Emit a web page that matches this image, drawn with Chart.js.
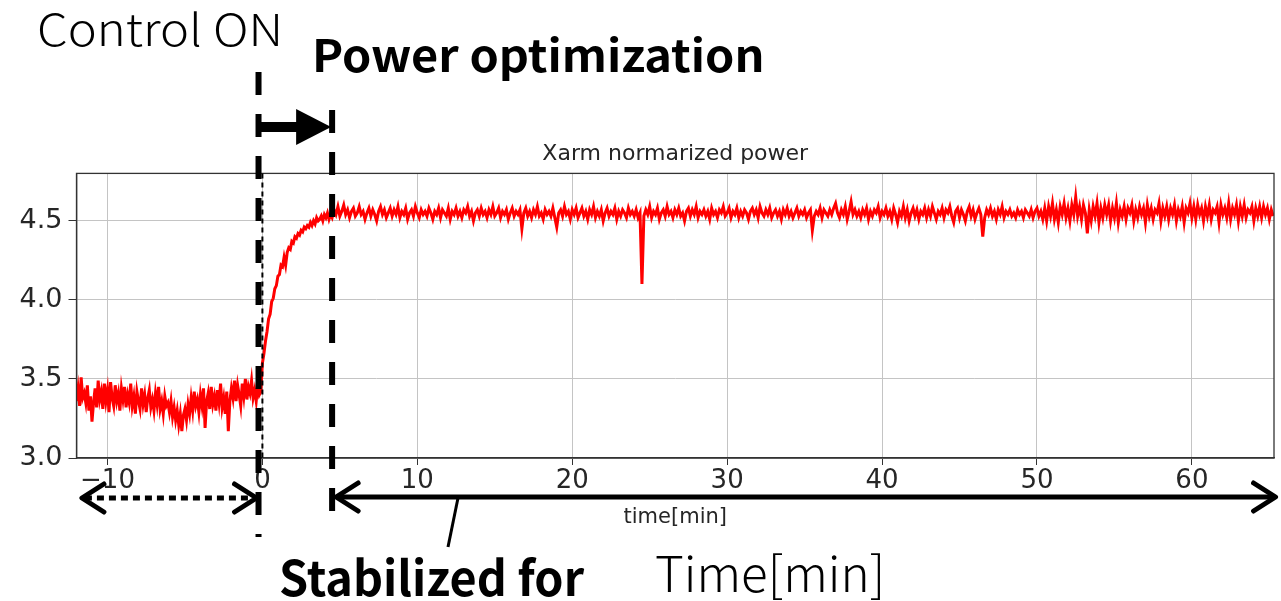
<!DOCTYPE html>
<html>
<head>
<meta charset="utf-8">
<title>Xarm normarized power</title>
<script src="https://cdn.jsdelivr.net/npm/chart.js@4.4.0/dist/chart.umd.min.js"></script>
<style>
  html, body { margin: 0; padding: 0; background: #fff; }
  #power { display: block; }
</style>
</head>
<body>
<canvas id="power" width="1281" height="601"></canvas>
<script>
"use strict";

// Xarm normalized power, sampled before and after control is switched on
const preStart = -12, preStep = 0.1;      // before control ON
const rampStart = 0, rampStep = 0.1;      // power optimization
const runStart = 4.5, runStep = 0.125;    // stabilized

const preValues = [
    3.36, 3.44, 3.33, 3.51, 3.38, 3.41, 3.35, 3.46, 3.30, 3.39,
    3.23, 3.35, 3.44, 3.32, 3.49, 3.37, 3.42, 3.31, 3.47, 3.36,
    3.43, 3.29, 3.48, 3.38, 3.33, 3.46, 3.36, 3.41, 3.30, 3.44,
    3.37, 3.45, 3.32, 3.40, 3.35, 3.47, 3.33, 3.39, 3.28, 3.42,
    3.36, 3.31, 3.44, 3.34, 3.40, 3.29, 3.38, 3.43, 3.32, 3.37,
    3.30, 3.41, 3.34, 3.45, 3.31, 3.36, 3.28, 3.39, 3.33, 3.35,
    3.29, 3.36, 3.26, 3.32, 3.24, 3.30, 3.21, 3.28, 3.17, 3.27,
    3.31, 3.24, 3.34, 3.28, 3.38, 3.30, 3.42, 3.33, 3.37, 3.29,
    3.40, 3.33, 3.44, 3.19, 3.36, 3.41, 3.31, 3.45, 3.34, 3.39,
    3.30, 3.43, 3.35, 3.47, 3.32, 3.38, 3.28, 3.42, 3.17, 3.36,
    3.44, 3.38, 3.49, 3.36, 3.46, 3.40, 3.33, 3.47, 3.39, 3.50,
    3.37, 3.45, 3.41, 3.49, 3.38, 3.43, 3.36, 3.46, 3.40, 3.42
];

const rampValues = [
    3.60, 3.66, 3.74, 3.80, 3.88, 3.91, 3.99, 4.01, 4.07, 4.09,
    4.15, 4.16, 4.22, 4.21, 4.27, 4.22, 4.30, 4.33, 4.32, 4.37,
    4.36, 4.40, 4.39, 4.42, 4.41, 4.44, 4.43, 4.46, 4.45, 4.47,
    4.46, 4.49, 4.47, 4.50, 4.48, 4.52, 4.50, 4.51, 4.53, 4.50,
    4.54, 4.52, 4.55, 4.51, 4.54
];

// one row = 2 minutes
const runValues = [
    4.52, 4.57, 4.54, 4.59, 4.53, 4.56, 4.60, 4.54, 4.57, 4.52, 4.56, 4.58, 4.53, 4.55, 4.59, 4.54,
    4.56, 4.51, 4.55, 4.58, 4.53, 4.57, 4.54, 4.50, 4.56, 4.59, 4.54, 4.57, 4.52, 4.55, 4.58, 4.53,
    4.57, 4.54, 4.59, 4.52, 4.56, 4.54, 4.58, 4.51, 4.55, 4.57, 4.53, 4.59, 4.55, 4.52, 4.57, 4.54,
    4.56, 4.53, 4.58, 4.55, 4.51, 4.56, 4.54, 4.58, 4.52, 4.57, 4.55, 4.53, 4.58, 4.51, 4.56, 4.54,
    4.58, 4.53, 4.56, 4.52, 4.57, 4.55, 4.59, 4.53, 4.56, 4.50, 4.55, 4.57, 4.53, 4.58, 4.54, 4.56,
    4.52, 4.57, 4.54, 4.59, 4.53, 4.55, 4.58, 4.52, 4.56, 4.54, 4.57, 4.51, 4.55, 4.58, 4.53, 4.56,
    4.54, 4.57, 4.45, 4.55, 4.58, 4.53, 4.56, 4.52, 4.57, 4.54, 4.59, 4.53, 4.55, 4.51, 4.57, 4.54,
    4.56, 4.53, 4.58, 4.52, 4.46, 4.55, 4.57, 4.53, 4.59, 4.54, 4.56, 4.51, 4.57, 4.54, 4.58, 4.52,
    4.55, 4.58, 4.53, 4.56, 4.51, 4.57, 4.54, 4.59, 4.52, 4.56, 4.53, 4.57, 4.50, 4.55, 4.58, 4.53,
    4.56, 4.54, 4.58, 4.51, 4.56, 4.53, 4.57, 4.55, 4.52, 4.58, 4.54, 4.56, 4.53, 4.57, 4.52, 4.55,
    4.10, 4.53, 4.57, 4.54, 4.59, 4.52, 4.56, 4.54, 4.58, 4.51, 4.55, 4.57, 4.53, 4.59, 4.54, 4.56,
    4.52, 4.57, 4.54, 4.58, 4.53, 4.55, 4.50, 4.56, 4.58, 4.53, 4.57, 4.54, 4.59, 4.52, 4.56, 4.54,
    4.57, 4.53, 4.56, 4.51, 4.58, 4.54, 4.56, 4.52, 4.57, 4.55, 4.59, 4.53, 4.55, 4.58, 4.52, 4.56,
    4.54, 4.58, 4.52, 4.56, 4.53, 4.57, 4.55, 4.51, 4.56, 4.58, 4.54, 4.57, 4.52, 4.59, 4.55, 4.53,
    4.57, 4.54, 4.58, 4.52, 4.55, 4.57, 4.53, 4.56, 4.51, 4.57, 4.54, 4.58, 4.53, 4.56, 4.52, 4.55,
    4.58, 4.53, 4.56, 4.54, 4.57, 4.52, 4.55, 4.57, 4.44, 4.53, 4.56, 4.54, 4.58, 4.52, 4.57, 4.55,
    4.53, 4.57, 4.54, 4.58, 4.61, 4.55, 4.52, 4.57, 4.54, 4.59, 4.51, 4.56, 4.62, 4.54, 4.57, 4.53,
    4.56, 4.52, 4.57, 4.54, 4.58, 4.51, 4.56, 4.53, 4.57, 4.55, 4.59, 4.52, 4.56, 4.54, 4.58, 4.53,
    4.56, 4.51, 4.58, 4.54, 4.49, 4.56, 4.53, 4.59, 4.52, 4.57, 4.50, 4.55, 4.58, 4.53, 4.57, 4.51,
    4.56, 4.54, 4.58, 4.52, 4.57, 4.53, 4.59, 4.55, 4.51, 4.56, 4.54, 4.58, 4.52, 4.57, 4.55, 4.59,
    4.53, 4.49, 4.56, 4.58, 4.52, 4.57, 4.54, 4.50, 4.56, 4.59, 4.53, 4.57, 4.51, 4.55, 4.58, 4.54,
    4.40, 4.52, 4.57, 4.54, 4.58, 4.53, 4.56, 4.51, 4.57, 4.54, 4.59, 4.52, 4.56, 4.54, 4.57, 4.53,
    4.55, 4.52, 4.57, 4.54, 4.56, 4.52, 4.57, 4.55, 4.53, 4.57, 4.52, 4.56, 4.58, 4.53, 4.56, 4.51,
    4.58, 4.50, 4.59, 4.53, 4.61, 4.51, 4.57, 4.49, 4.59, 4.54, 4.61, 4.52, 4.58, 4.50, 4.60, 4.54,
    4.65, 4.53, 4.59, 4.51, 4.60, 4.55, 4.42, 4.57, 4.50, 4.59, 4.53, 4.61, 4.49, 4.58, 4.52, 4.60,
    4.54, 4.60, 4.50, 4.58, 4.52, 4.61, 4.49, 4.57, 4.53, 4.59, 4.51, 4.58, 4.55, 4.60, 4.50, 4.57,
    4.52, 4.59, 4.54, 4.58, 4.49, 4.60, 4.53, 4.58, 4.51, 4.57, 4.55, 4.61, 4.50, 4.58, 4.53, 4.59,
    4.51, 4.58, 4.54, 4.60, 4.50, 4.57, 4.53, 4.59, 4.49, 4.58, 4.55, 4.61, 4.52, 4.59, 4.51, 4.60,
    4.54, 4.58, 4.50, 4.59, 4.53, 4.60, 4.51, 4.57, 4.55, 4.59, 4.49, 4.60, 4.54, 4.58, 4.52, 4.61,
    4.51, 4.58, 4.54, 4.60, 4.50, 4.59, 4.53, 4.60, 4.52, 4.57, 4.55, 4.59, 4.50, 4.58, 4.53, 4.59,
    4.52, 4.59, 4.54, 4.58, 4.51, 4.57, 4.53
];

// Axis ranges and ticks
const xMin = -12, xMax = 65.3, xStep = 10;
const yMin = 3.0, yMax = 4.8, yStep = 0.5;

// Phase markers (minutes)
const controlOnTime = -0.25;
const optimizedTime = 4.5;
const dottedFrom = -11.65;
const stableTo = 65.4;

const points = [];
function addSegment(values, start, step) {
    values.forEach(function (v, i) {
        points.push({x: start + i * step, y: v});
    });
}
addSegment(preValues, preStart, preStep);
addSegment(rampValues, rampStart, rampStep);
addSegment(runValues, runStart, runStep);


// Helpers for the overlay drawing
function line(ctx, x1, y1, x2, y2) {
    ctx.beginPath();
    ctx.moveTo(x1, y1);
    ctx.lineTo(x2, y2);
    ctx.stroke();
}

function chevron(ctx, tipX, y, dir) {
    ctx.beginPath();
    ctx.moveTo(tipX - dir * 22, y - 14);
    ctx.lineTo(tipX, y);
    ctx.lineTo(tipX - dir * 22, y + 14);
    ctx.stroke();
}

// draws text stretched into an ink box
function boxText(ctx, text, font, left, top, right, bottom) {
    ctx.save();
    ctx.font = font;
    ctx.textAlign = 'left';
    ctx.textBaseline = 'alphabetic';
    const m = ctx.measureText(text);
    const inkW = m.actualBoundingBoxLeft + m.actualBoundingBoxRight;
    const inkH = m.actualBoundingBoxAscent + m.actualBoundingBoxDescent;
    const sx = (right - left) / inkW;
    const sy = (bottom - top) / inkH;
    ctx.translate(left + m.actualBoundingBoxLeft * sx, top + m.actualBoundingBoxAscent * sy);
    ctx.scale(sx, sy);
    ctx.fillStyle = '#000';
    ctx.fillText(text, 0, 0);
    ctx.restore();
}


// Annotations: phase boundaries, arrows and labels
const overlay = {
    id: 'overlay',
    afterDraw: function (chart) {
        const ctx = chart.ctx;
        const area = chart.chartArea;
        const xs = chart.scales.x;
        const xOn = xs.getPixelForValue(controlOnTime);
        const xOpt = xs.getPixelForValue(optimizedTime);
        const xZero = xs.getPixelForValue(0);
        const xFrom = xs.getPixelForValue(dottedFrom);
        const xTo = xs.getPixelForValue(stableTo);

        ctx.save();

        // top and right spines
        ctx.strokeStyle = '#333';
        ctx.lineWidth = 1.3;
        ctx.strokeRect(area.left, area.top, area.right - area.left, area.bottom - area.top);

        // thin dashed line at t = 0
        ctx.strokeStyle = '#000';
        ctx.lineWidth = 2;
        ctx.setLineDash([5, 4]);
        line(ctx, xZero, area.top, xZero, area.bottom);

        // thick dashed phase lines
        ctx.lineWidth = 6;
        ctx.setLineDash([23, 19]);
        line(ctx, xOn, 72, xOn, 537);
        line(ctx, xOpt, 110, xOpt, 512);

        // optimization arrow
        ctx.setLineDash([]);
        ctx.fillStyle = '#000';
        ctx.fillRect(xOn, 122, xOpt - 35 - xOn, 10);
        ctx.beginPath();
        ctx.moveTo(xOpt - 36, 109);
        ctx.lineTo(xOpt - 1, 127);
        ctx.lineTo(xOpt - 36, 145);
        ctx.closePath();
        ctx.fill();

        // dotted arrow, before control
        ctx.lineWidth = 5;
        ctx.lineCap = 'butt';
        ctx.setLineDash([7, 5]);
        line(ctx, xFrom + 3, 498, xOn - 3, 498);
        ctx.setLineDash([]);
        ctx.lineCap = 'round';
        ctx.lineJoin = 'round';
        chevron(ctx, xFrom, 498, -1);
        chevron(ctx, xOn - 2, 498, 1);

        // solid arrow, stabilized period
        ctx.lineCap = 'butt';
        line(ctx, xOpt + 4, 497, xTo - 2, 497);
        ctx.lineCap = 'round';
        chevron(ctx, xOpt + 4, 497, -1);
        chevron(ctx, xTo, 497, 1);

        // leader to the label below
        ctx.lineWidth = 3;
        ctx.lineCap = 'butt';
        line(ctx, 458, 498, 448, 547);

        ctx.restore();

        boxText(ctx, 'Control ON', '300 48px "Noto Sans CJK JP"', 39, 11, 278, 47);
        boxText(ctx, 'Power optimization', 'bold 46px "Noto Sans CJK JP"', 316, 36, 762, 82);
        boxText(ctx, 'Stabilized for', 'bold 46px "Noto Sans CJK JP"', 280, 556, 585, 597);
        boxText(ctx, 'Time[min]', '300 48px "Noto Sans CJK JP"', 656, 553, 880, 600);
    }
};


// Power chart
const ctx = document.getElementById('power').getContext('2d');
const powerChart = new Chart(ctx, {
    type: 'line',
    data: {
        datasets: [{
            label: 'Xarm normarized power',
            data: points,
            borderColor: '#ff0000',
            borderWidth: 3,
            pointRadius: 0,
            tension: 0,
            fill: false
        }]
    },
    options: {
        responsive: false,
        animation: false,
        devicePixelRatio: 1,
        layout: {
            padding: {left: 0, right: 7, top: 0, bottom: 0}
        },
        plugins: {
            legend: {display: false},
            tooltip: {enabled: false},
            title: {
                display: true,
                fullSize: false,
                text: 'Xarm normarized power',
                color: '#262626',
                font: {family: '"DejaVu Sans"', size: 22, weight: 'normal', lineHeight: 1.2},
                padding: {top: 141, bottom: 6}
            }
        },
        scales: {
            x: {
                type: 'linear',
                min: xMin,
                max: xMax,
                afterFit: function (scale) { scale.height = 143; },
                ticks: {
                    stepSize: xStep,
                    includeBounds: false,
                    maxRotation: 0,
                    padding: 1,
                    color: '#262626',
                    font: {family: '"DejaVu Sans"', size: 26},
                    callback: function (v) {
                        return v < 0 ? '\u2212' + Math.abs(v) : String(v);
                    }
                },
                grid: {color: '#c4c4c4', lineWidth: 1, tickLength: 7, tickColor: '#333'},
                border: {color: '#333', width: 1.3},
                title: {
                    display: true,
                    text: 'time[min]',
                    color: '#262626',
                    font: {family: '"DejaVu Sans"', size: 21, lineHeight: 1.2},
                    padding: {top: 0, bottom: 71}
                }
            },
            y: {
                min: yMin,
                max: yMax,
                afterFit: function (scale) { scale.width = 76.5; },
                ticks: {
                    stepSize: yStep,
                    includeBounds: false,
                    padding: 6,
                    color: '#262626',
                    font: {family: '"DejaVu Sans"', size: 27},
                    callback: function (v) { return v.toFixed(1); }
                },
                grid: {color: '#c4c4c4', lineWidth: 1, tickLength: 8, tickColor: '#333'},
                border: {color: '#333', width: 1.3}
            }
        }
    },
    plugins: [overlay]
});
</script>
</body>
</html>
